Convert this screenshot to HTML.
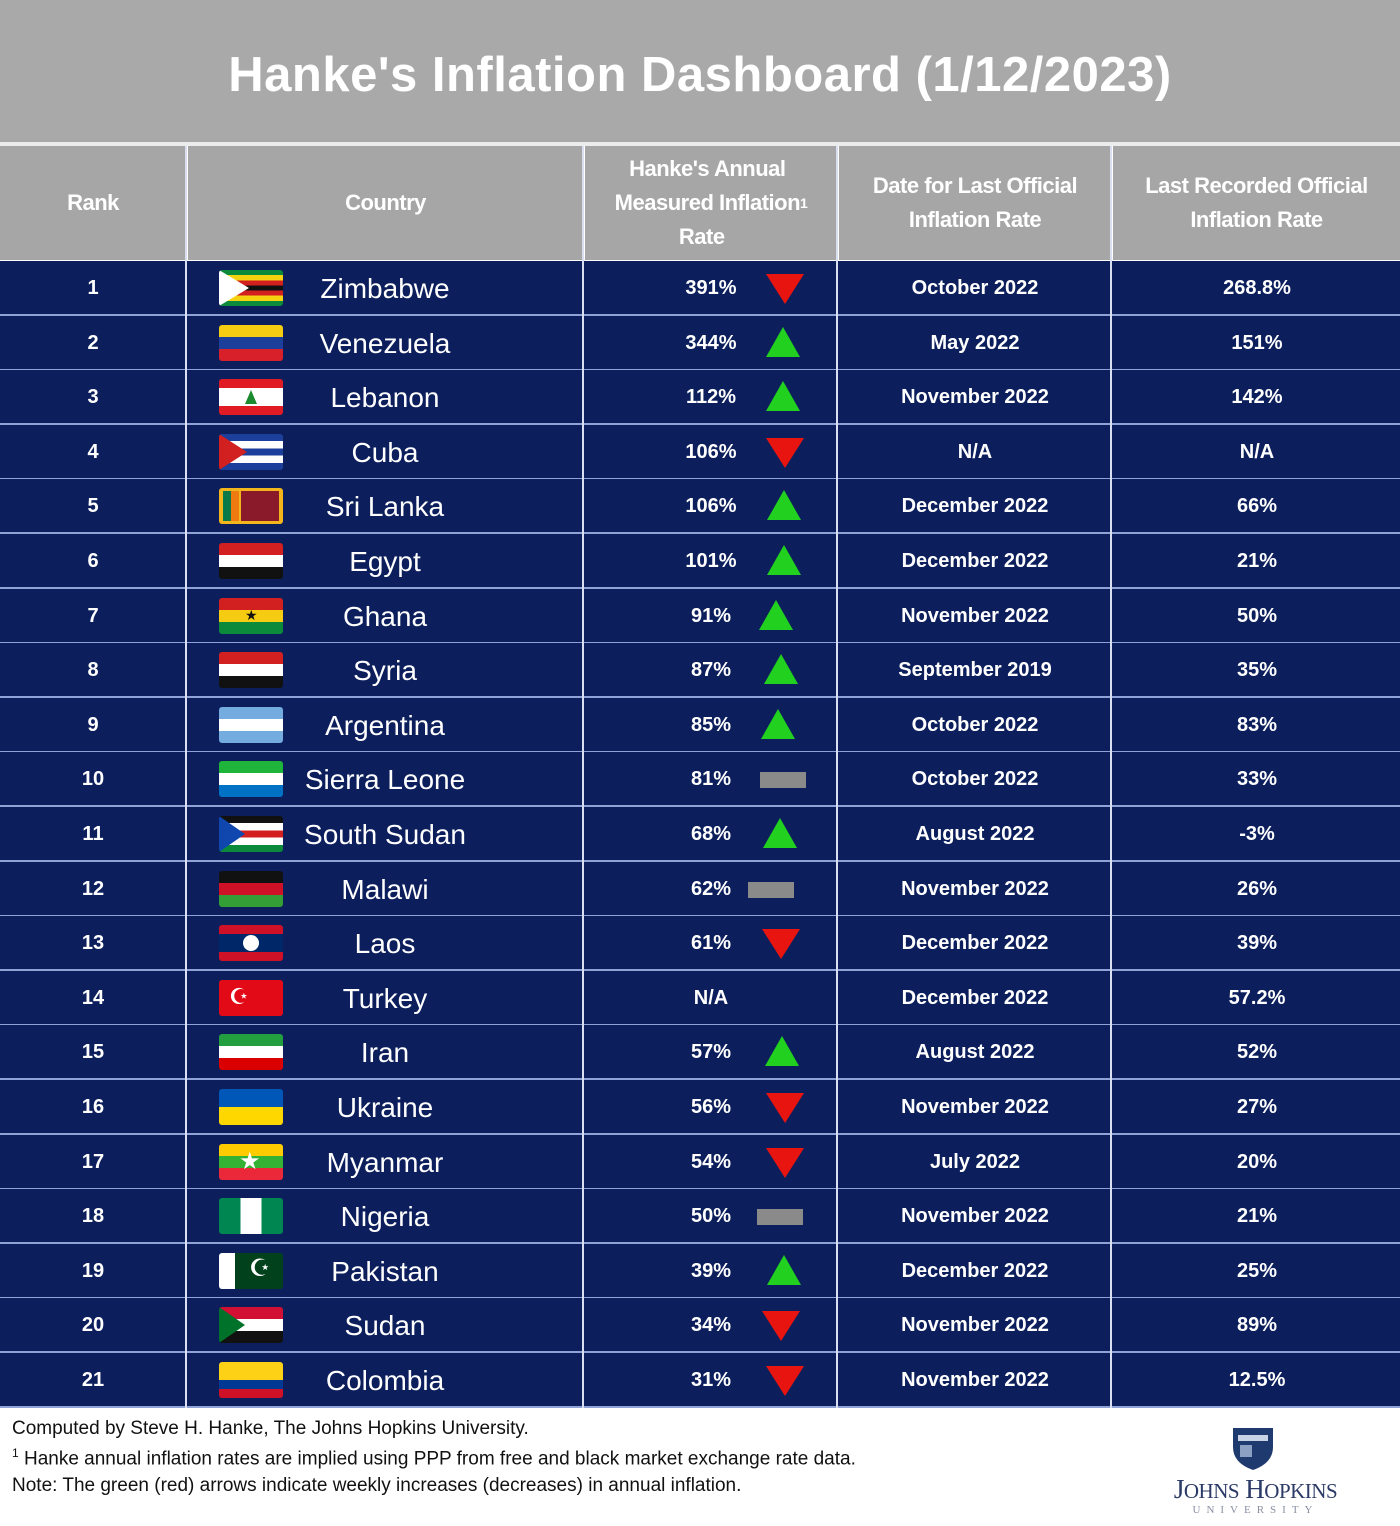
<!DOCTYPE html>
<html><head><meta charset="utf-8"><style>
body{margin:0;width:1400px;height:1526px;background:#fff;position:relative;overflow:hidden;font-family:"Liberation Sans",sans-serif;}
.title{position:absolute;left:0;top:0;width:1400px;height:142px;background:#a9a9a9;color:#fff;font-weight:bold;font-size:49px;text-align:center;line-height:150px;letter-spacing:0.5px;}
.hdr{position:absolute;top:146px;height:114px;background:#a6a6a6;color:#fff;font-weight:bold;font-size:22px;display:flex;align-items:center;justify-content:center;text-align:center;line-height:34px;letter-spacing:-0.5px;}
.row{position:absolute;left:0;width:1400px;height:53px;background:#0c1f5c;color:#fff;border-bottom:2px solid #8fa3d6;}
.c{position:absolute;top:0;height:53px;line-height:54px;text-align:center;font-weight:bold;font-size:20px;}
.cn{position:absolute;top:0;height:53px;line-height:55px;left:290px;width:190px;text-align:center;font-size:28px;}
.flag{position:absolute;left:219px;top:9px;width:64px;height:36px;border-radius:3px;overflow:hidden;}
.vl{position:absolute;top:146px;width:2px;height:1262px;background:#d9def0;}
.up{position:absolute;top:11px;width:0;height:0;border-left:17px solid transparent;border-right:17px solid transparent;border-bottom:30px solid #22d01f;}
.dn{position:absolute;top:13px;width:0;height:0;border-left:19px solid transparent;border-right:19px solid transparent;border-top:30px solid #e8140f;}
.fl{position:absolute;top:20px;width:46px;height:16px;background:#8a8a8a;}
.foot{position:absolute;left:12px;font-size:19px;color:#111;}
</style></head><body>
<div class="title">Hanke's Inflation Dashboard (1/12/2023)</div>
<div class="hdr" style="left:0;width:186px">Rank</div>
<div class="hdr" style="left:188px;width:395px">Country</div>
<div class="hdr" style="left:585px;width:252px">Hanke's Annual<br>Measured Inflation<br>Rate &nbsp;<sup style="font-size:14px;line-height:0">1</sup></div>
<div class="hdr" style="left:839px;width:272px">Date for Last Official<br>Inflation Rate</div>
<div class="hdr" style="left:1113px;width:287px">Last Recorded Official<br>Inflation Rate</div>
<div style="position:absolute;left:0;top:142px;width:1400px;height:4px;background:#ececec"></div>
<div id="rows"></div>
<div class="vl" style="left:185px"></div>
<div class="vl" style="left:582px"></div>
<div class="vl" style="left:836px"></div>
<div class="vl" style="left:1110px"></div>
<div class="foot" style="top:1418px">Computed by Steve H. Hanke, The Johns Hopkins University.</div>
<div class="foot" style="top:1446px"><sup style="font-size:12px">1</sup> Hanke annual inflation rates are implied using PPP from free and black market exchange rate data.</div>
<div class="foot" style="top:1475px">Note: The green (red) arrows indicate weekly increases (decreases) in annual inflation.</div>
<svg style="position:absolute;left:1230px;top:1425px" width="46" height="46" viewBox="0 0 46 46"><path d="M3 3 H43 V22 Q43 38 23 45 Q3 38 3 22Z" fill="#1f3a6e"/><rect x="8" y="10" width="30" height="6" fill="#c9d3e6"/><rect x="10" y="20" width="12" height="12" fill="#8ca0c4"/></svg>
<div style="position:absolute;left:1158px;top:1474px;width:195px;text-align:center;font-family:'Liberation Serif',serif;font-size:27px;color:#2b3a66;letter-spacing:-0.5px">J<span style="font-size:21px">OHNS</span> H<span style="font-size:21px">OPKINS</span></div>
<div style="position:absolute;left:1158px;top:1504px;width:195px;text-align:center;font-family:'Liberation Serif',serif;font-size:11px;color:#8a8fa3;letter-spacing:6px">UNIVERSITY</div>
<script>
const L=(...s)=>'linear-gradient(to bottom,'+s.map((c,i)=>c+' '+(i*100/s.length)+'%,'+c+' '+((i+1)*100/s.length)+'%').join(',')+')';
const V=(...s)=>L(...s).replace('to bottom','to right');
const tri=(c,w)=>`<div style="position:absolute;left:0;top:0;border-top:18px solid transparent;border-bottom:18px solid transparent;border-left:${w}px solid ${c}"></div>`;
const data=[
[1,'Zimbabwe',L('#0a8a3a','#f5d20f','#d21f1f','#111','#d21f1f','#f5d20f','#0a8a3a'),tri('#fff',30),'391%','dn','October 2022','268.8%'],
[2,'Venezuela',L('#f5cc12','#1c3f9c','#d8202a'),'','344%','up','May 2022','151%'],
[3,'Lebanon',L('#e01b24','#fff','#fff','#e01b24'),'<div style="position:absolute;left:26px;top:11px;border-left:6px solid transparent;border-right:6px solid transparent;border-bottom:14px solid #1c8a2e"></div>','112%','up','November 2022','142%'],
[4,'Cuba',L('#1c3f9c','#fff','#1c3f9c','#fff','#1c3f9c'),tri('#d21f1f',28),'106%','dn','N/A','N/A'],
[5,'Sri Lanka','#f2b51b','<div style="position:absolute;left:4px;top:3px;width:8px;height:30px;background:#0a7a4a"></div><div style="position:absolute;left:12px;top:3px;width:8px;height:30px;background:#f07a12"></div><div style="position:absolute;left:22px;top:3px;width:38px;height:30px;background:#8a1a2a"></div>','106%','up','December 2022','66%'],
[6,'Egypt',L('#d21f1f','#fff','#111'),'','101%','up','December 2022','21%'],
[7,'Ghana',L('#d21f1f','#f5cc12','#0a8a3a'),'<div style="position:absolute;left:26px;top:10px;color:#111;font-size:14px;line-height:14px">★</div>','91%','up','November 2022','50%'],
[8,'Syria',L('#d21f1f','#fff','#111'),'','87%','up','September 2019','35%'],
[9,'Argentina',L('#74acdf','#fff','#74acdf'),'','85%','up','October 2022','83%'],
[10,'Sierra Leone',L('#1eb53a','#fff','#0072c6'),'','81%','fl','October 2022','33%'],
[11,'South Sudan',L('#111','#fff','#d21f1f','#fff','#0a8a3a'),tri('#0f47af',26),'68%','up','August 2022','-3%'],
[12,'Malawi',L('#111','#ce1126','#339e35'),'','62%','fl','November 2022','26%'],
[13,'Laos',L('#ce1126','#002868','#002868','#ce1126'),'<div style="position:absolute;left:24px;top:10px;width:16px;height:16px;border-radius:50%;background:#fff"></div>','61%','dn','December 2022','39%'],
[14,'Turkey','#e30a17','<div style="position:absolute;left:10px;top:6px;color:#fff;font-size:22px;line-height:22px">☪</div>','N/A','','December 2022','57.2%'],
[15,'Iran',L('#239f40','#fff','#da0000'),'','57%','up','August 2022','52%'],
[16,'Ukraine',L('#0057b7','#ffd700'),'','56%','dn','November 2022','27%'],
[17,'Myanmar',L('#fecb00','#34b233','#ea2839'),'<div style="position:absolute;left:20px;top:6px;color:#fff;font-size:24px;line-height:24px">★</div>','54%','dn','July 2022','20%'],
[18,'Nigeria',V('#008751','#fff','#008751'),'','50%','fl','November 2022','21%'],
[19,'Pakistan','linear-gradient(to right,#fff 25%,#01411c 25%)','<div style="position:absolute;left:30px;top:4px;color:#fff;font-size:24px;line-height:24px">☪</div>','39%','up','December 2022','25%'],
[20,'Sudan',L('#d21034','#fff','#111'),tri('#007229',26),'34%','dn','November 2022','89%'],
[21,'Colombia','linear-gradient(to bottom,#fcd116 50%,#003893 50%,#003893 75%,#ce1126 75%)','','31%','dn','November 2022','12.5%']];
const ax=[0,785,783,783,785,784,784,776,781,778,783,780,771,781,0,782,785,785,780,784,781,785];
let h='';
data.forEach((d,i)=>{
 const top=261+i*54.6;
 let a='';
 if(d[5]=='up')a=`<div class="up" style="left:${ax[d[0]]-17}px"></div>`;
 if(d[5]=='dn')a=`<div class="dn" style="left:${ax[d[0]]-19}px"></div>`;
 if(d[5]=='fl')a=`<div class="fl" style="left:${ax[d[0]]-23}px"></div>`;
 h+=`<div class="row" style="top:${top}px">
 <div class="c" style="left:0;width:186px">${d[0]}</div>
 <div class="flag" style="background:${d[2]}">${d[3]}</div>
 <div class="cn">${d[1]}</div>
 <div class="c" style="left:660px;width:102px">${d[4]}</div>${a}
 <div class="c" style="left:838px;width:274px">${d[6]}</div>
 <div class="c" style="left:1112px;width:290px">${d[7]}</div></div>`;
});
document.getElementById('rows').innerHTML=h;
</script>
</body></html>
